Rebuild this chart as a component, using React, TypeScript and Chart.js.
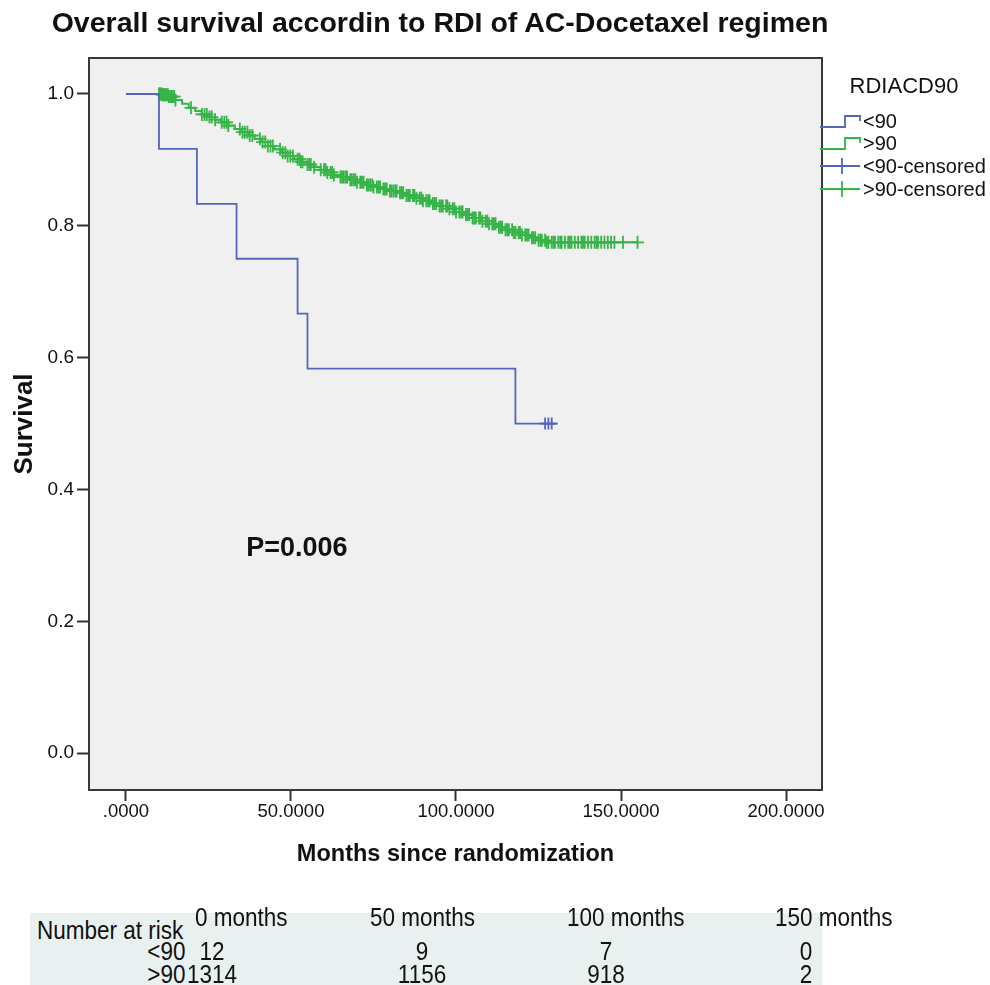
import React, { useEffect, useRef } from "react";
import { Chart, registerables } from "chart.js";

Chart.register(...registerables);

const FONT = '"Liberation Sans", Arial, Helvetica, sans-serif';

const TITLE = "Overall survival accordin to RDI of AC-Docetaxel regimen";
const X_TITLE = "Months since randomization";
const Y_TITLE = "Survival";
const LEGEND_TITLE = "RDIACD90";
const P_LABEL = "P=0.006";
const P_POS = { x: 51.8, y: 0.311 };

const X_TICKS = [0, 50, 100, 150, 200];
const Y_TICKS = [0, 0.2, 0.4, 0.6, 0.8, 1.0];

const BLUE = "#5266bb";
const GREEN = "#36b448";

// <90 group (Kaplan-Meier steps)
const lt90Times = [0, 10, 21.5, 33.5, 52, 55, 118, 130.5];
const lt90Surv = [1, 0.9167, 0.8333, 0.75, 0.6667, 0.5833, 0.5, 0.5];
const lt90CensorTimes = [127, 128, 129];

// >90 group
const gt90Times = [
  0, 11, 13, 15, 17, 19, 21, 23, 25, 27, 29, 31, 33, 35, 37, 39, 41, 43, 45, 47,
  49, 51, 53, 55, 57, 59, 61, 63, 65, 67.5, 70, 72.5, 75, 77.5, 80, 82.5, 85,
  87.5, 90, 92.5, 95, 97.5, 100, 102.5, 105, 107.5, 110, 112.5, 115, 117.5, 120,
  122.5, 125, 127.5, 155,
];
const gt90Surv = [
  1.0, 0.999, 0.996, 0.991, 0.985, 0.979, 0.974, 0.969, 0.965, 0.961, 0.957,
  0.952, 0.947, 0.942, 0.937, 0.932, 0.927, 0.921, 0.916, 0.911, 0.906, 0.901,
  0.897, 0.893, 0.889, 0.885, 0.881, 0.877, 0.874, 0.87, 0.866, 0.862, 0.859,
  0.856, 0.853, 0.85, 0.846, 0.842, 0.838, 0.834, 0.83, 0.826, 0.821, 0.817,
  0.812, 0.807, 0.803, 0.798, 0.794, 0.79, 0.786, 0.782, 0.778, 0.775, 0.775,
];
const gt90CensorTimes = [
  10, 10.3, 10.5, 10.8, 11, 11.3, 11.6, 12, 12.3, 12.7, 13, 13.4, 13.8, 14.2,
  14.6, 15, 19.7, 23, 23.8, 24.5, 25.3, 26, 27, 29, 29.8, 30.5, 31, 34.5, 35.3,
  36, 36.8, 37.5, 38.3, 40.6, 41.4, 42.2, 43, 43.8, 44.5, 46.7, 47.5, 48.3, 49,
  49.8, 50.6, 52, 52.6, 53, 53.5, 55, 55.6, 56, 57, 59, 60, 60.5, 61, 62, 62.5,
  63, 65, 65.5, 66, 66.6, 67, 68, 68.4, 69, 69.5, 70, 71, 71.5, 72, 73, 73.4,
  74, 74.6, 75, 76, 76.5, 77, 78, 78.5, 79, 80, 80.4, 81, 81.6, 82, 83, 83.5,
  84, 85, 85.5, 86, 87, 87.4, 88, 89, 89.5, 90, 91, 91.6, 92, 93, 93.5, 94, 95,
  95.5, 96, 97, 97.4, 98, 99, 99.5, 100, 101, 101.6, 102, 103, 103.5, 104, 105,
  105.5, 106, 107, 107.4, 108, 109, 109.5, 110, 111, 111.5, 112, 113, 113.6,
  114, 115, 115.5, 116, 117, 117.5, 118, 119, 119.4, 120, 121, 121.5, 122, 123,
  123.5, 124, 125, 125.6, 126, 127, 127.5, 128, 129, 129.5, 130, 131, 131.6,
  132, 133, 134, 134.5, 135, 136, 137, 138, 138.5, 139, 140, 141, 142, 142.6,
  143, 144, 145, 146, 147, 148, 150.6, 155,
];

// Number at risk table
const riskHeaders = ["0 months", "50 months", "100 months", "150 months"];
const riskGroups = ["<90", ">90"];
const riskLt90 = [12, 9, 7, 0];
const riskGt90 = [1314, 1156, 918, 2];

function survAt(times: number[], surv: number[], t: number) {
  let s = surv[0];
  for (let i = 0; i < times.length; i++) if (times[i] <= t) s = surv[i];
  return s;
}

function Label(props: {
  x: number;
  y: number;
  text: string;
  size: number;
  align?: "left" | "right" | "center";
  bold?: boolean;
  sx?: number;
}) {
  const { x, y, text, size, align = "left", bold = false, sx = 1 } = props;
  const lh = Math.round(size * 1.2);
  const style: any = {
    position: "absolute",
    top: y - lh / 2,
    fontSize: size,
    lineHeight: `${lh}px`,
    fontFamily: FONT,
    fontWeight: bold ? 700 : 400,
    color: "#111",
    whiteSpace: "nowrap",
  };
  if (align === "left") {
    style.left = x;
    style.transformOrigin = "left center";
  } else if (align === "right") {
    style.right = 990 - x;
    style.transformOrigin = "right center";
  } else {
    style.left = x - 500;
    style.width = 1000;
    style.textAlign = "center";
    style.transformOrigin = "center center";
  }
  if (sx !== 1) style.transform = `scaleX(${sx})`;
  return <div style={style}>{text}</div>;
}

function StepIcon({ color, y }: { color: string; y: number }) {
  return (
    <svg
      width={44}
      height={20}
      style={{ position: "absolute", left: 820, top: y - 10 }}
    >
      <polyline
        points="0,16 25,16 25,5 40,5 40,10"
        fill="none"
        stroke={color}
        strokeWidth={1.8}
      />
    </svg>
  );
}

function CrossIcon({ color, y }: { color: string; y: number }) {
  return (
    <svg
      width={44}
      height={20}
      style={{ position: "absolute", left: 820, top: y - 10 }}
    >
      <line x1={0} y1={10} x2={40} y2={10} stroke={color} strokeWidth={1.8} />
      <line x1={22} y1={2} x2={22} y2={18} stroke={color} strokeWidth={1.8} />
    </svg>
  );
}

export default function App() {
  const ref = useRef<HTMLCanvasElement | null>(null);

  useEffect(() => {
    if (!ref.current) return;

    const framePlugin = {
      id: "frameAndText",
      beforeDraw(chart: any) {
        const { ctx, chartArea: a } = chart;
        ctx.save();
        ctx.fillStyle = "#f0f0f0";
        ctx.fillRect(a.left, a.top, a.right - a.left, a.bottom - a.top);
        ctx.restore();
      },
      afterDatasetsDraw(chart: any) {
        const { ctx, chartArea: a, scales } = chart;
        ctx.save();
        ctx.strokeStyle = "#3a3a3a";
        ctx.lineWidth = 2;
        ctx.strokeRect(a.left, a.top, a.right - a.left, a.bottom - a.top);
        ctx.fillStyle = "#111";
        ctx.font = `bold 27px ${FONT}`;
        ctx.textAlign = "center";
        ctx.textBaseline = "middle";
        ctx.fillText(
          P_LABEL,
          scales.x.getPixelForValue(P_POS.x),
          scales.y.getPixelForValue(P_POS.y)
        );
        ctx.restore();
      },
    };

    const chart = new Chart(ref.current, {
      type: "scatter",
      data: {
        datasets: [
          {
            label: "<90",
            data: lt90Times.map((t, i) => ({ x: t, y: lt90Surv[i] })),
            showLine: true,
            stepped: true,
            borderColor: BLUE,
            borderWidth: 1.8,
            pointRadius: 0,
            fill: false,
          },
          {
            label: ">90",
            data: gt90Times.map((t, i) => ({ x: t, y: gt90Surv[i] })),
            showLine: true,
            stepped: true,
            borderColor: GREEN,
            borderWidth: 2,
            pointRadius: 0,
            fill: false,
          },
          {
            label: "<90-censored",
            data: lt90CensorTimes.map((t) => ({
              x: t,
              y: survAt(lt90Times, lt90Surv, t),
            })),
            showLine: false,
            pointStyle: "cross",
            pointRadius: 6,
            borderColor: BLUE,
            backgroundColor: BLUE,
            pointBorderWidth: 1.8,
          },
          {
            label: ">90-censored",
            data: gt90CensorTimes.map((t) => ({
              x: t,
              y: survAt(gt90Times, gt90Surv, t),
            })),
            showLine: false,
            pointStyle: "cross",
            pointRadius: 6.5,
            borderColor: GREEN,
            backgroundColor: GREEN,
            pointBorderWidth: 1.8,
          },
        ] as any,
      },
      options: {
        responsive: false,
        animation: false,
        layout: { padding: { left: 0, top: 58, right: 168, bottom: 0 } },
        plugins: {
          legend: { display: false },
          title: { display: false },
          tooltip: { enabled: false },
        },
        scales: {
          x: {
            type: "linear",
            min: -11.2,
            max: 210.9,
            afterBuildTicks: (s: any) => {
              s.ticks = X_TICKS.map((v) => ({ value: v }));
            },
            afterFit: (s: any) => {
              s.height = 195;
            },
            ticks: {
              autoSkip: false,
              maxRotation: 0,
              padding: 0,
              color: "#111",
              font: { family: FONT, size: 18.5 },
              callback: (v: any) =>
                Number(v) === 0 ? ".0000" : Number(v).toFixed(4),
            },
            grid: {
              display: true,
              drawOnChartArea: false,
              drawTicks: true,
              tickLength: 11,
              tickWidth: 2,
              tickColor: "#333",
            },
            border: { display: false },
            title: {
              display: true,
              text: X_TITLE,
              color: "#111",
              font: { family: FONT, size: 23.5, weight: "bold" },
              padding: { top: 0, bottom: 116 },
            },
          },
          y: {
            type: "linear",
            min: -0.056,
            max: 1.0546,
            afterBuildTicks: (s: any) => {
              s.ticks = Y_TICKS.map((v) => ({ value: v }));
            },
            afterFit: (s: any) => {
              s.width = 89;
            },
            ticks: {
              autoSkip: false,
              padding: 3,
              color: "#111",
              font: { family: FONT, size: 19 },
              callback: (v: any) => Number(v).toFixed(1),
            },
            grid: {
              display: true,
              drawOnChartArea: false,
              drawTicks: true,
              tickLength: 12,
              tickWidth: 2,
              tickColor: "#333",
            },
            border: { display: false },
            title: {
              display: true,
              text: Y_TITLE,
              color: "#111",
              font: { family: FONT, size: 26, weight: "bold" },
              padding: { top: 9, bottom: 0 },
            },
          },
        },
      } as any,
      plugins: [framePlugin],
    });

    return () => chart.destroy();
  }, []);

  const legendRows = [121, 143, 166, 189];
  const headerX = [195, 370, 567, 775];
  const numX = [212, 422, 606, 806];
  const TS = 25;
  const SX = 0.9;

  return (
    <div
      style={{
        position: "absolute",
        left: 0,
        top: 0,
        width: 990,
        height: 985,
        background: "#fff",
        overflow: "hidden",
      }}
    >
      <canvas
        ref={ref}
        width={990}
        height={985}
        style={{ position: "absolute", left: 0, top: 0 }}
      />
      <Label x={440} y={22} text={TITLE} size={28.5} align="center" bold />

      {/* Legend */}
      <Label x={904} y={86} text={LEGEND_TITLE} size={22} align="center" />
      <StepIcon color={BLUE} y={legendRows[0]} />
      <Label x={863} y={legendRows[0]} text="<90" size={20} />
      <StepIcon color={GREEN} y={legendRows[1]} />
      <Label x={863} y={legendRows[1]} text=">90" size={20} />
      <CrossIcon color={BLUE} y={legendRows[2]} />
      <Label x={863} y={legendRows[2]} text="<90-censored" size={20} />
      <CrossIcon color={GREEN} y={legendRows[3]} />
      <Label x={863} y={legendRows[3]} text=">90-censored" size={20} />

      {/* Number at risk table */}
      <div
        style={{
          position: "absolute",
          left: 30,
          top: 913,
          width: 792,
          height: 72,
          background: "#e9f0f0",
        }}
      />
      <Label x={37} y={930} text="Number at risk" size={TS} sx={SX} />
      {riskHeaders.map((h, i) => (
        <Label key={h} x={headerX[i]} y={917} text={h} size={TS} sx={SX} />
      ))}
      <Label x={185} y={951} text={riskGroups[0]} size={TS} align="right" sx={SX} />
      <Label x={185} y={974} text={riskGroups[1]} size={TS} align="right" sx={SX} />
      {riskLt90.map((v, i) => (
        <Label key={"a" + i} x={numX[i]} y={951} text={String(v)} size={TS} align="center" sx={SX} />
      ))}
      {riskGt90.map((v, i) => (
        <Label key={"b" + i} x={numX[i]} y={974} text={String(v)} size={TS} align="center" sx={SX} />
      ))}
    </div>
  );
}
